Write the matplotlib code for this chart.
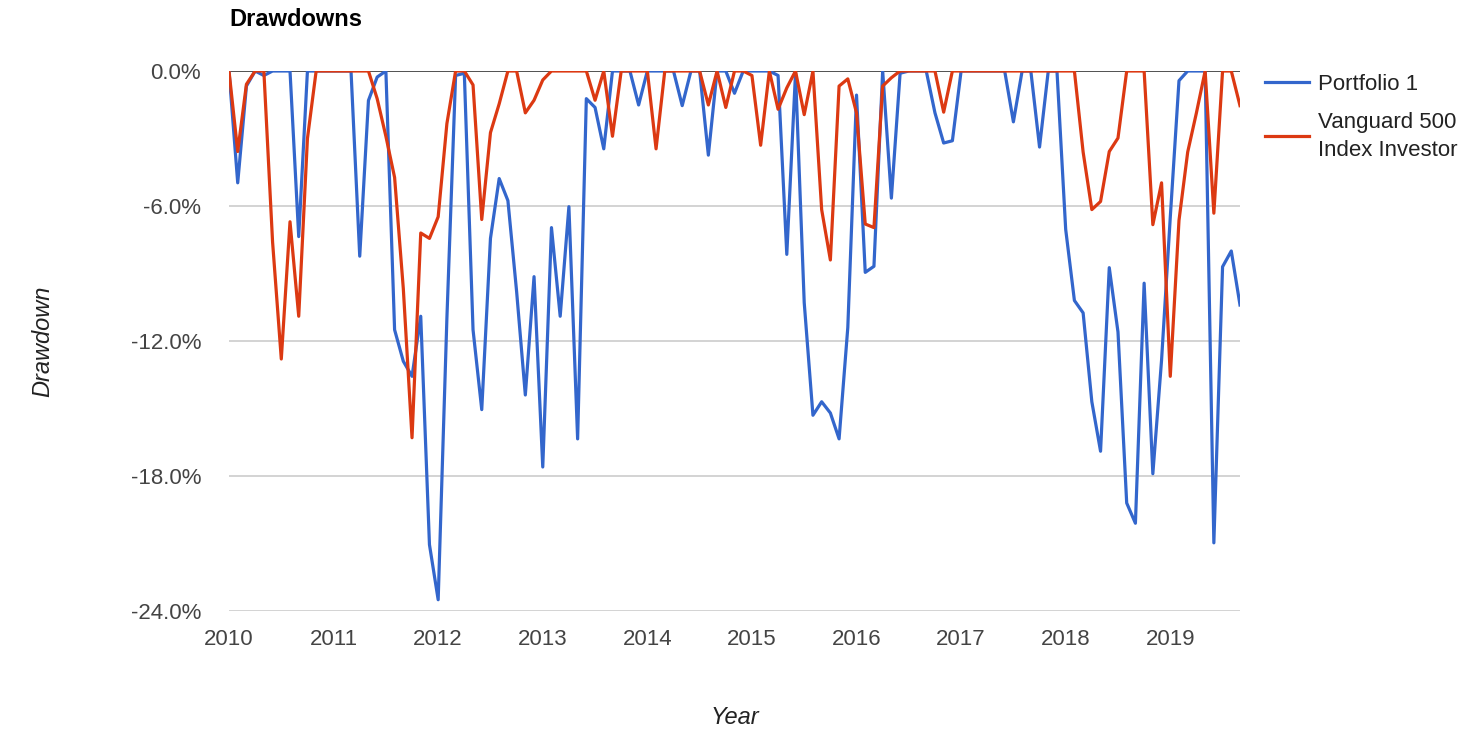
import numpy as np
import matplotlib.pyplot as plt
from matplotlib.ticker import FuncFormatter

plt.rcParams['font.family'] = ['Liberation Sans', 'DejaVu Sans']

# Monthly drawdowns (%), Jan 2010 .. Sep 2019
start_year = 2010
portfolio_1 = [
    0, -4.97, -0.67, 0, -0.2, 0, 0, 0, -7.36, 0, 0, 0,
    0, 0, 0, -8.23, -1.31, -0.27, 0, -11.5, -12.9, -13.57, -10.9, -21.05,
    -23.5, -11.0, -0.2, -0.1, -11.5, -15.05, -7.44, -4.78, -5.76, -9.8, -14.4, -9.14,
    -17.6, -6.96, -10.9, -6.03, -16.35, -1.23, -1.62, -3.46, 0, 0, 0, -1.51,
    0, 0, 0, 0, -1.54, 0, 0, -3.74, 0, 0, -0.99, 0,
    0, 0, 0, -0.2, -8.15, -0.1, -10.3, -15.3, -14.7, -15.2, -16.35, -11.4,
    -1.07, -8.95, -8.68, 0, -5.65, -0.1, 0, 0, 0, -1.86, -3.2, -3.1,
    0, 0, 0, 0, 0, 0, -2.26, 0, 0, -3.38, 0, 0,
    -7.04, -10.2, -10.75, -14.7, -16.9, -8.74, -11.6, -19.2, -20.1, -9.43, -17.9, -12.85,
    -6.5, -0.43, 0, 0, 0, -20.97, -8.7, -8.0, -10.4,
]
vanguard_500 = [
    0, -3.58, -0.59, 0, 0, -7.6, -12.8, -6.7, -10.9, -3.0, 0, 0,
    0, 0, 0, 0, 0, -1.23, -2.9, -4.73, -9.67, -16.3, -7.2, -7.44,
    -6.48, -2.34, 0, 0, -0.62, -6.6, -2.74, -1.46, 0, 0, -1.86, -1.3,
    -0.4, 0, 0, 0, 0, 0, -1.3, 0, -2.9, 0, 0, 0,
    0, -3.46, 0, 0, 0, 0, 0, -1.51, 0, -1.62, 0, 0,
    -0.2, -3.3, 0, -1.7, -0.75, 0, -1.94, 0, -6.16, -8.4, -0.67, -0.35,
    -1.86, -6.8, -6.96, -0.67, -0.3, 0, 0, 0, 0, 0, -1.83, 0,
    0, 0, 0, 0, 0, 0, 0, 0, 0, 0, 0, 0,
    0, 0, -3.6, -6.16, -5.8, -3.58, -2.98, 0, 0, 0, -6.83, -4.97,
    -13.57, -6.64, -3.6, -1.86, 0, -6.32, 0, 0, -1.54,
]
years = list(range(2010, 2020))
y_ticks = [0, -6, -12, -18, -24]

x = start_year + np.arange(len(portfolio_1)) / 12.0

fig = plt.figure(figsize=(14.83, 7.39), dpi=100)
ax = fig.add_axes([229 / 1483, 1 - 611 / 739, 1011 / 1483, 540 / 739])

for t in y_ticks[1:]:
    ax.axhline(t, color='#cccccc', lw=1.2, zorder=0)
ax.axhline(0, color='#333333', lw=1.2, zorder=1)

ax.plot(x, portfolio_1, color='#3366cc', lw=2.3, label='Portfolio 1', zorder=3)
ax.plot(x, vanguard_500, color='#dc3912', lw=2.3,
        label='Vanguard 500\nIndex Investor', zorder=3)

ax.set_xlim(start_year, x[-1])
ax.set_ylim(-24, 0)
ax.set_xticks(years)
ax.set_yticks(y_ticks)
ax.yaxis.set_major_formatter(FuncFormatter(lambda v, p: f'{v:.1f}%'))
ax.tick_params(length=0, labelsize=16, colors='#444444')
ax.tick_params(axis='y', pad=20)
ax.tick_params(axis='x', pad=13)
for s in ax.spines.values():
    s.set_visible(False)

ax.set_xlabel('Year', fontsize=17, style='italic', color='#222222', labelpad=40)
ax.set_ylabel('Drawdown', fontsize=17, style='italic', color='#222222', labelpad=55)
fig.text(229 / 1483, 1 - 19 / 739, 'Drawdowns', fontsize=17, fontweight='bold',
         va='center', ha='left')

leg = ax.legend(loc='upper left', bbox_to_anchor=(1265 / 1483, 1 - 74 / 739),
                bbox_transform=fig.transFigure, frameon=False, borderpad=0,
                borderaxespad=0, fontsize=16, handlelength=2.0,
                handletextpad=0.4, labelspacing=0.75)
for t in leg.get_texts():
    t.set_linespacing(1.45)
    t.set_color('#222222')

fig.savefig('out.png', dpi=100)
